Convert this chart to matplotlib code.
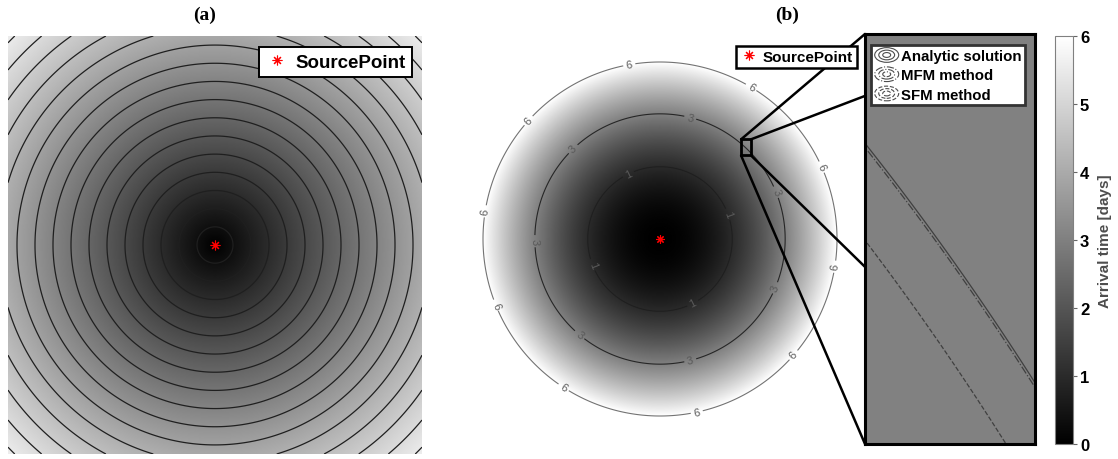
import numpy as np
import matplotlib
matplotlib.use("Agg")
import matplotlib.pyplot as plt
from matplotlib.lines import Line2D
from matplotlib.patches import Ellipse, Rectangle, ConnectionPatch
from matplotlib.legend_handler import HandlerBase
from matplotlib.cm import ScalarMappable
from matplotlib.colors import Normalize

plt.rcParams['font.family'] = ['Liberation Sans', 'DejaVu Sans']

# panel (a): evenly spaced arrival-time rings
a_half_extent = 11.5
a_levels = np.arange(1, 17)
a_vmax = 17.5

# panel (b): arrival time field, t = t_max * (r / scale)^2
t_max = 6
b_levels = [1, 3, 6]
b_label_angles = {
    1: [20, 116, 201, 297],
    3: [22, 76, 134, 181, 230, 284, 337],
    6: [24, 59, 100, 138, 171, 202, 237, 282, 319, 351],
}
methods = ['Analytic solution', 'MFM method', 'SFM method']
method_scale = [1.0, 0.9990, 0.977]
method_style = ['-', '-.', '--']
zoom_level = 3
zoom_box = [0.458, 0.514, 0.472, 0.563]   # x0, x1, y0, y1
cbar_ticks = [0, 1, 2, 3, 4, 5, 6]
source = (0.0, 0.0)

W, H = 1118, 460
fig = plt.figure(figsize=(W / 100, H / 100), dpi=100)


def fbox(x0, y0, x1, y1):
    return [x0 / W, 1 - y1 / H, (x1 - x0) / W, (y1 - y0) / H]


star = (8, 2, 0)

# ---------------- (a) ----------------
ax_a = fig.add_axes(fbox(8, 37, 422, 455))
g = np.linspace(-a_half_extent, a_half_extent, 500)
X, Y = np.meshgrid(g, g)
Ta = np.hypot(X, Y)
ax_a.imshow(Ta, cmap='gray', vmin=0, vmax=a_vmax, origin='lower',
            extent=[-a_half_extent, a_half_extent, -a_half_extent, a_half_extent],
            interpolation='bilinear', aspect='auto')
ax_a.contour(X, Y, Ta, levels=a_levels, colors='0.12', linewidths=0.9)
ax_a.plot(*source, ls='none', marker=star, color='red', ms=7, mew=0.8)
ax_a.set_xlim(-a_half_extent, a_half_extent)
ax_a.set_ylim(-a_half_extent, a_half_extent)
ax_a.axis('off')
h_src = Line2D([], [], ls='none', marker=star, color='red', ms=7, mew=0.8)
leg = ax_a.legend([h_src], ['SourcePoint'], loc='upper right',
                  bbox_to_anchor=(0.976, 0.974), borderaxespad=0,
                  prop={'weight': 'bold', 'size': 13.5}, fancybox=False,
                  framealpha=1, edgecolor='black', handletextpad=0.4,
                  borderpad=0.35, handlelength=1.2)
leg.get_frame().set_linewidth(1.4)
fig.text(205 / W, 1 - 15 / H, '(a)', ha='center', va='center',
         family='Liberation Serif', weight='bold', size=14)

# ---------------- (b) ----------------
lim = 190 / 177
ax_b = fig.add_axes(fbox(470, 50, 850, 430))
g = np.linspace(-lim, lim, 700)
X, Y = np.meshgrid(g, g)
R = np.hypot(X, Y)
Tb = t_max * R ** 2
Tb_img = np.where(R <= 1.0, Tb, np.nan)
cmap = plt.get_cmap('gray').copy()
cmap.set_bad('white')
ax_b.imshow(Tb_img, cmap=cmap, vmin=0, vmax=t_max, origin='lower',
            extent=[-lim, lim, -lim, lim], interpolation='bilinear', aspect='auto')
cs = ax_b.contour(X, Y, Tb, levels=b_levels, colors=['0.12', '0.15', '0.45'],
                  linewidths=0.8)
pos = []
for lv in b_levels:
    rr = np.sqrt(lv / t_max)
    for ang in b_label_angles[lv]:
        pos.append((rr * np.cos(np.radians(ang)), rr * np.sin(np.radians(ang))))
ax_b.clabel(cs, manual=pos, inline=True, inline_spacing=3, fontsize=8,
            colors='0.35', fmt='%d')
ax_b.plot(*source, ls='none', marker=star, color='red', ms=6, mew=0.8)
ax_b.set_xlim(-lim, lim)
ax_b.set_ylim(-lim, lim)
ax_b.axis('off')

x0, x1, y0, y1 = zoom_box
ax_b.add_patch(Rectangle((x0, y0), x1 - x0, y1 - y0, fill=False, ec='black', lw=2, zorder=5))

leg_b = fig.legend([h_src], ['SourcePoint'], loc='upper right',
                   bbox_to_anchor=(857 / W, 1 - 47 / H), borderaxespad=0,
                   prop={'weight': 'bold', 'size': 11}, fancybox=False,
                   framealpha=1, edgecolor='black', handletextpad=0.35,
                   borderpad=0.25, handlelength=1.2)
leg_b.get_frame().set_linewidth(1.8)
fig.text(787 / W, 1 - 15 / H, '(b)', ha='center', va='center',
         family='Liberation Serif', weight='bold', size=14)

# ---------------- inset ----------------
ax_in = fig.add_axes(fbox(865, 35, 1035, 445))
norm = Normalize(0, t_max)
rc = np.hypot((x0 + x1) / 2, (y0 + y1) / 2)
ax_in.set_facecolor(plt.get_cmap('gray')(norm(t_max * rc ** 2)))
gx = np.linspace(x0 - 0.01, x1 + 0.01, 300)
gy = np.linspace(y0 - 0.01, y1 + 0.01, 300)
GX, GY = np.meshgrid(gx, gy)
GR = np.hypot(GX, GY)
handles = []
for name, s, st in zip(methods, method_scale, method_style):
    ax_in.contour(GX, GY, t_max * (GR / s) ** 2, levels=[zoom_level],
                  colors='0.25', linewidths=0.9, linestyles=st)
    handles.append(Line2D([], [], color='0.3', ls=st))
ax_in.set_xlim(x0, x1)
ax_in.set_ylim(y0, y1)
ax_in.set_xticks([])
ax_in.set_yticks([])
for sp in ax_in.spines.values():
    sp.set_linewidth(2.2)


class HandlerRings(HandlerBase):
    def create_artists(self, legend, orig_handle, xdescent, ydescent,
                       width, height, fontsize, trans):
        cx = width / 2 - xdescent
        cy = height / 2 - ydescent
        arts = []
        for f in (1.0, 0.66, 0.33):
            arts.append(Ellipse((cx, cy), width * f, height * 1.4 * f, fill=False,
                                ec=orig_handle.get_color(),
                                ls=orig_handle.get_linestyle(), lw=0.8,
                                transform=trans))
        return arts


leg_in = ax_in.legend(handles, methods, loc='upper left',
                      bbox_to_anchor=(0.035, 0.972), borderaxespad=0,
                      handler_map={Line2D: HandlerRings()},
                      prop={'weight': 'bold', 'size': 10.8}, fancybox=False,
                      framealpha=1, edgecolor='0.2', handletextpad=0.15,
                      borderpad=0.25, handlelength=1.6, labelspacing=0.35)
leg_in.get_frame().set_linewidth(2)

# connector lines from zoom box to inset
links = [((x0, y1), (0, 1)), ((x1, y1), (0, 0.849)),
         ((x1, y0), (0, 0.432)), ((x0, y0), (0, 0))]
for pa, pb in links:
    fig.add_artist(ConnectionPatch(xyA=pa, coordsA=ax_b.transData,
                                   xyB=pb, coordsB=ax_in.transAxes,
                                   color='black', lw=1.8))

# ---------------- colorbar ----------------
ax_cb = fig.add_axes(fbox(1055, 37, 1073, 445))
cb = fig.colorbar(ScalarMappable(norm=norm, cmap='gray'), cax=ax_cb, ticks=cbar_ticks)
cb.outline.set_edgecolor('0.5')
cb.outline.set_linewidth(0.8)
ax_cb.tick_params(length=3, width=0.8, color='0.4', labelsize=12, pad=2)
for t in ax_cb.get_yticklabels():
    t.set_fontweight('bold')
cb.set_label('Arrival time [days]', size=11, weight='bold', color='0.3', labelpad=6)

fig.savefig('out.png', dpi=100)
